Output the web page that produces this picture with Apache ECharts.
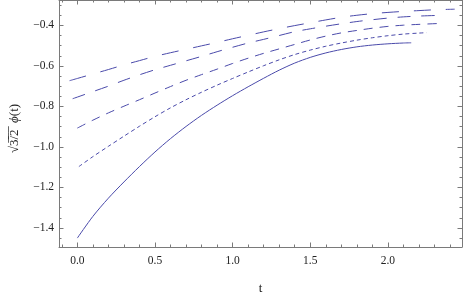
<!DOCTYPE html>
<html>
<head>
<meta charset="utf-8">
<script src="https://cdn.jsdelivr.net/npm/echarts@6/dist/echarts.min.js"></script>
<style>html,body{margin:0;padding:0;background:#fff}#c{width:463px;height:300px}</style>
</head>
<body>
<div id="c"></div>
<script>
// ---- data ----
const t1 = [-0.05,0.0,0.1,0.2,0.3,0.4,0.5,0.6,0.7,0.8,0.9,1.0,1.1,1.2,1.3,1.4,1.5,1.6,1.7,1.8,1.9,2.0,2.1,2.2,2.3,2.43];
const v1 = [-0.673,-0.662,-0.640,-0.618,-0.595,-0.574,-0.553,-0.535,-0.518,-0.501,-0.484,-0.466,-0.449,-0.432,-0.416,-0.401,-0.387,-0.373,-0.360,-0.350,-0.342,-0.336,-0.331,-0.327,-0.323,-0.320];
const t2 = [-0.03,0.0,0.1,0.2,0.3,0.4,0.5,0.6,0.7,0.8,0.9,1.0,1.1,1.2,1.3,1.4,1.5,1.6,1.7,1.8,1.9,2.0,2.1,2.2,2.35];
const v2 = [-0.762,-0.754,-0.727,-0.700,-0.671,-0.644,-0.619,-0.597,-0.575,-0.553,-0.530,-0.508,-0.487,-0.469,-0.450,-0.431,-0.417,-0.404,-0.392,-0.381,-0.372,-0.364,-0.358,-0.354,-0.350];
const t3 = [0.0,0.1,0.2,0.3,0.4,0.5,0.6,0.7,0.8,0.9,1.0,1.1,1.2,1.3,1.4,1.5,1.6,1.7,1.8,1.9,2.0,2.1,2.2,2.35];
const v3 = [-0.907,-0.868,-0.832,-0.799,-0.767,-0.734,-0.702,-0.671,-0.643,-0.616,-0.588,-0.562,-0.538,-0.516,-0.494,-0.472,-0.453,-0.437,-0.425,-0.414,-0.405,-0.399,-0.395,-0.390];
const t4 = [0.01,0.1,0.2,0.3,0.4,0.5,0.6,0.7,0.8,0.9,1.0,1.1,1.2,1.3,1.4,1.5,1.6,1.7,1.8,1.9,2.0,2.1,2.2,2.25];
const v4 = [-1.097,-1.048,-0.997,-0.947,-0.898,-0.851,-0.807,-0.767,-0.730,-0.695,-0.662,-0.630,-0.599,-0.570,-0.544,-0.522,-0.503,-0.487,-0.473,-0.461,-0.451,-0.443,-0.438,-0.436];
const t5 = [0.0,0.1,0.2,0.3,0.4,0.5,0.6,0.7,0.8,0.9,1.0,1.1,1.2,1.3,1.4,1.5,1.6,1.7,1.8,1.9,2.0,2.1,2.15];
const v5 = [-1.450,-1.343,-1.253,-1.173,-1.097,-1.025,-0.959,-0.899,-0.844,-0.794,-0.747,-0.703,-0.661,-0.621,-0.586,-0.558,-0.536,-0.519,-0.506,-0.497,-0.491,-0.487,-0.486];

const xMajor = [0.0,0.5,1.0,1.5,2.0];
const xMinor = [-0.1,0.1,0.2,0.3,0.4,0.6,0.7,0.8,0.9,1.1,1.2,1.3,1.4,1.6,1.7,1.8,1.9,2.1,2.2,2.3,2.4];
const yMajor = [-1.4,-1.2,-1.0,-0.8,-0.6,-0.4];
const yMinor = [-1.45,-1.35,-1.3,-1.25,-1.15,-1.1,-1.05,-0.95,-0.9,-0.85,-0.75,-0.7,-0.65,-0.55,-0.5,-0.45,-0.35,-0.3];

const xMin = -0.118, xMax = 2.477, yMin = -1.494, yMax = -0.2747;
const frameColor = '#7a7a7a';
const lineColor = '#4a4aaa';
const font = 'Liberation Serif';

function fmt(v){ return (v < 0 ? '\u2212' : '') + Math.abs(v).toFixed(1); }
function pairs(ts, vs){ return ts.map((t,i)=>[t, vs[i]]); }

const lblStyle = {fontFamily:font, fontSize:11.5, color:'#222'};

function xAx(pos, ticks, len, showLine, showLabel, extra){
  return Object.assign({
    type:'value', position:pos, min:xMin, max:xMax, gridIndex:0,
    axisLine:{show:showLine, onZero:false, lineStyle:{color:frameColor, width:1}},
    axisTick:{show:true, inside:true, length:len, customValues:ticks, lineStyle:{color:frameColor, width:1}},
    axisLabel:{show:showLabel, customValues:ticks, margin:8, formatter:function(v){return '{s|'+fmt(v)+'}';},
      fontFamily:font, fontSize:11.5, color:'#222', rich:{s:lblStyle}},
    splitLine:{show:false}, minorTick:{show:false}
  }, extra||{});
}
function yAx(pos, ticks, len, showLine, showLabel, extra){
  return Object.assign({
    type:'value', position:pos, min:yMin, max:yMax, gridIndex:0,
    axisLine:{show:showLine, onZero:false, lineStyle:{color:frameColor, width:1}},
    axisTick:{show:true, inside:true, length:len, customValues:ticks, lineStyle:{color:frameColor, width:1}},
    axisLabel:{show:showLabel, customValues:ticks, margin:5, formatter:function(v){return '{s|'+fmt(v)+'}';},
      fontFamily:font, fontSize:11.5, color:'#222', rich:{s:lblStyle}},
    splitLine:{show:false}, minorTick:{show:false}
  }, extra||{});
}

const chart = echarts.init(document.getElementById('c'), null, {renderer:'canvas'});
const mk = (data, dash) => ({
  type:'line', data:data, xAxisIndex:0, yAxisIndex:0, showSymbol:false, symbol:'none',
  smooth:0.3, animation:false,
  lineStyle:{color:lineColor, width:1, type:dash}
});
chart.setOption({
  animation:false,
  textStyle:{fontFamily:font},
  grid:{left:51, right:1, top:0, bottom:47, containLabel:false},
  xAxis:[
    xAx('bottom', xMajor, 4.5, true, true, {name:'t', nameLocation:'middle', nameGap:35,
      nameTextStyle:{color:'#222', fontFamily:font, fontSize:13}}),
    xAx('bottom', xMinor, 2.5, false, false),
    xAx('top', xMajor, 4.5, true, false),
    xAx('top', xMinor, 2.5, false, false)
  ],
  yAxis:[
    yAx('left', yMajor, 4.5, true, true, {name:'{a|\u221A3\u0305/\u03052\u0305}  {b|\u03D5}{a|(t)}', nameLocation:'middle', nameGap:38,
      nameTextStyle:{color:'#222', fontFamily:font, fontSize:13, padding:[0,10,0,0],
        rich:{a:{fontFamily:font, fontSize:13, color:'#222'}, b:{fontFamily:font, fontSize:13, fontStyle:'italic', color:'#222'}}}}),
    yAx('left', yMinor, 2.5, false, false),
    yAx('right', yMajor, 4.5, true, false),
    yAx('right', yMinor, 2.5, false, false)
  ],
  series:[
    mk(pairs(t1,v1), [17,15]),
    mk(pairs(t2,v2), [13,11]),
    mk(pairs(t3,v3), [9,7]),
    mk(pairs(t4,v4), [4,3]),
    mk(pairs(t5,v5), 'solid')
  ]
});
</script>
</body>
</html>
